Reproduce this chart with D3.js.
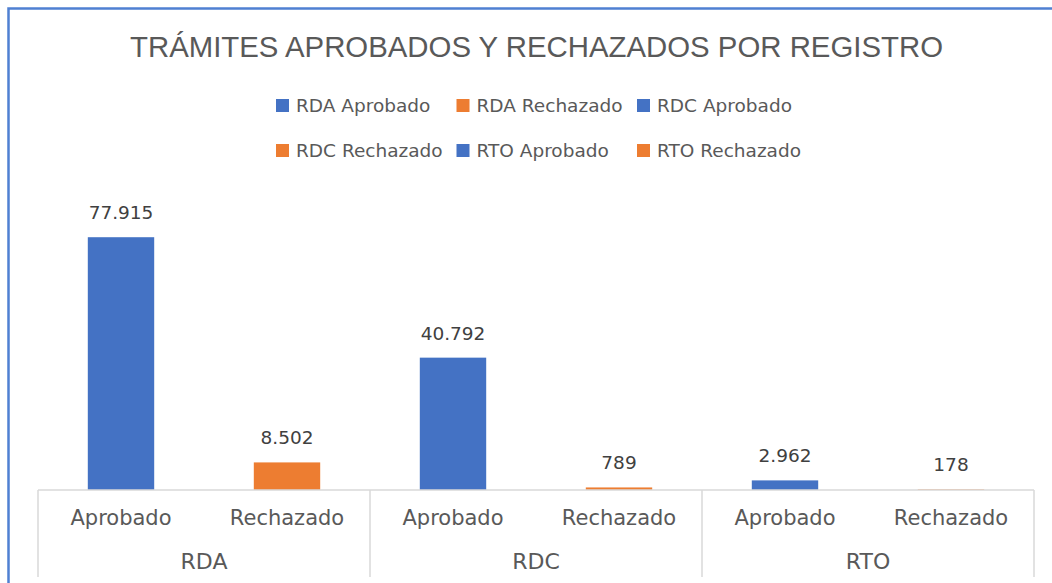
<!DOCTYPE html>
<html><head><meta charset="utf-8">
<script src="https://cdn.jsdelivr.net/npm/d3@7"></script>
<style>html,body{margin:0;padding:0;background:#fff;overflow:hidden}</style>
</head><body>
<svg id="chart" width="1052" height="583"></svg>
<script>
const title = "TRÁMITES APROBADOS Y RECHAZADOS POR REGISTRO";
const groups = ["RDA", "RDC", "RTO"];
const statuses = ["Aprobado", "Rechazado"];
const approved = [77915, 40792, 2962];
const rejected = [8502, 789, 178];
const seriesNames = ["RDA Aprobado", "RDA Rechazado", "RDC Aprobado", "RDC Rechazado", "RTO Aprobado", "RTO Rechazado"];
const seriesStatus = ["Aprobado", "Rechazado", "Aprobado", "Rechazado", "Aprobado", "Rechazado"];

const colors = {Aprobado: "#4472C4", Rechazado: "#ED7D31"};
const textColor = "#595959";
const font = "'DejaVu Sans', sans-serif";

const rows = [];
groups.forEach((g, i) => {
  rows.push({group: g, status: "Aprobado", value: approved[i]});
  rows.push({group: g, status: "Rechazado", value: rejected[i]});
});

const locale = d3.formatLocale({decimal: ",", thousands: ".", grouping: [3], currency: ["", "€"]});
const fmt = locale.format(",d");

const svg = d3.select("#chart");

// border
svg.append("path").attr("d", "M8.5,583V8.5H1052").attr("fill", "none")
  .attr("stroke", "#4f80d2").attr("stroke-width", 2.5);

// title
const t = svg.append("text").attr("x", 536.5).attr("y", 57)
  .attr("text-anchor", "middle").attr("fill", textColor)
  .attr("font-family", "'Liberation Sans', Arial, sans-serif")
  .attr("font-size", 30).text(title);
const tw = t.node().getComputedTextLength();
t.attr("font-size", 30 * 813 / tw);

// scales
const x0 = d3.scaleBand().domain(groups).range([38, 1034]);
const x1 = d3.scaleBand().domain(statuses).range([0, x0.bandwidth()]).paddingInner(0.6).paddingOuter(0.3);
const y = d3.scaleLinear().domain([0, 90000]).range([490, 198]);

// bars
svg.append("g").selectAll("rect").data(rows).join("rect")
  .attr("x", d => x0(d.group) + x1(d.status))
  .attr("width", x1.bandwidth())
  .attr("y", d => y(d.value))
  .attr("height", d => y(0) - y(d.value))
  .attr("fill", d => colors[d.status]);

// data labels
svg.append("g").selectAll("text").data(rows).join("text")
  .attr("x", d => x0(d.group) + x1(d.status) + x1.bandwidth() / 2)
  .attr("y", d => y(d.value) - 18)
  .attr("text-anchor", "middle").attr("fill", "#404040")
  .attr("font-family", font).attr("font-size", 18.5)
  .text(d => fmt(d.value));

// axis
const axisColor = "#d9d9d9";
const ax = svg.append("g");
ax.append("line").attr("x1", x0.range()[0]).attr("x2", x0.range()[1])
  .attr("y1", y(0)).attr("y2", y(0)).attr("stroke", axisColor).attr("stroke-width", 1.5);
const bounds = groups.map(g => x0(g)).concat([x0.range()[1]]);
ax.selectAll("line.sep").data(bounds).join("line").attr("class", "sep")
  .attr("x1", d => d).attr("x2", d => d)
  .attr("y1", y(0)).attr("y2", 577).attr("stroke", axisColor).attr("stroke-width", 1.5);
ax.selectAll("text.cat").data(rows).join("text").attr("class", "cat")
  .attr("x", d => x0(d.group) + x1(d.status) + x1.bandwidth() / 2)
  .attr("y", 525).attr("text-anchor", "middle").attr("fill", textColor)
  .attr("font-family", font).attr("font-size", 21).text(d => d.status);
ax.selectAll("text.grp").data(groups).join("text").attr("class", "grp")
  .attr("x", d => x0(d) + x0.bandwidth() / 2)
  .attr("y", 569).attr("text-anchor", "middle").attr("fill", textColor)
  .attr("font-family", font).attr("font-size", 22).text(d => d);

// legend
const legX = [276, 456.5, 637];
const legY = [99, 144];
const leg = svg.append("g").selectAll("g").data(seriesNames).join("g")
  .attr("transform", (d, i) => `translate(${legX[i % 3]},${legY[Math.floor(i / 3)]})`);
leg.append("rect").attr("width", 13).attr("height", 13)
  .attr("fill", (d, i) => colors[seriesStatus[i]]);
leg.append("text").attr("x", 20).attr("y", 12.5).attr("fill", textColor)
  .attr("font-family", font).attr("font-size", 18.5).text(d => d);
</script>
</body></html>
